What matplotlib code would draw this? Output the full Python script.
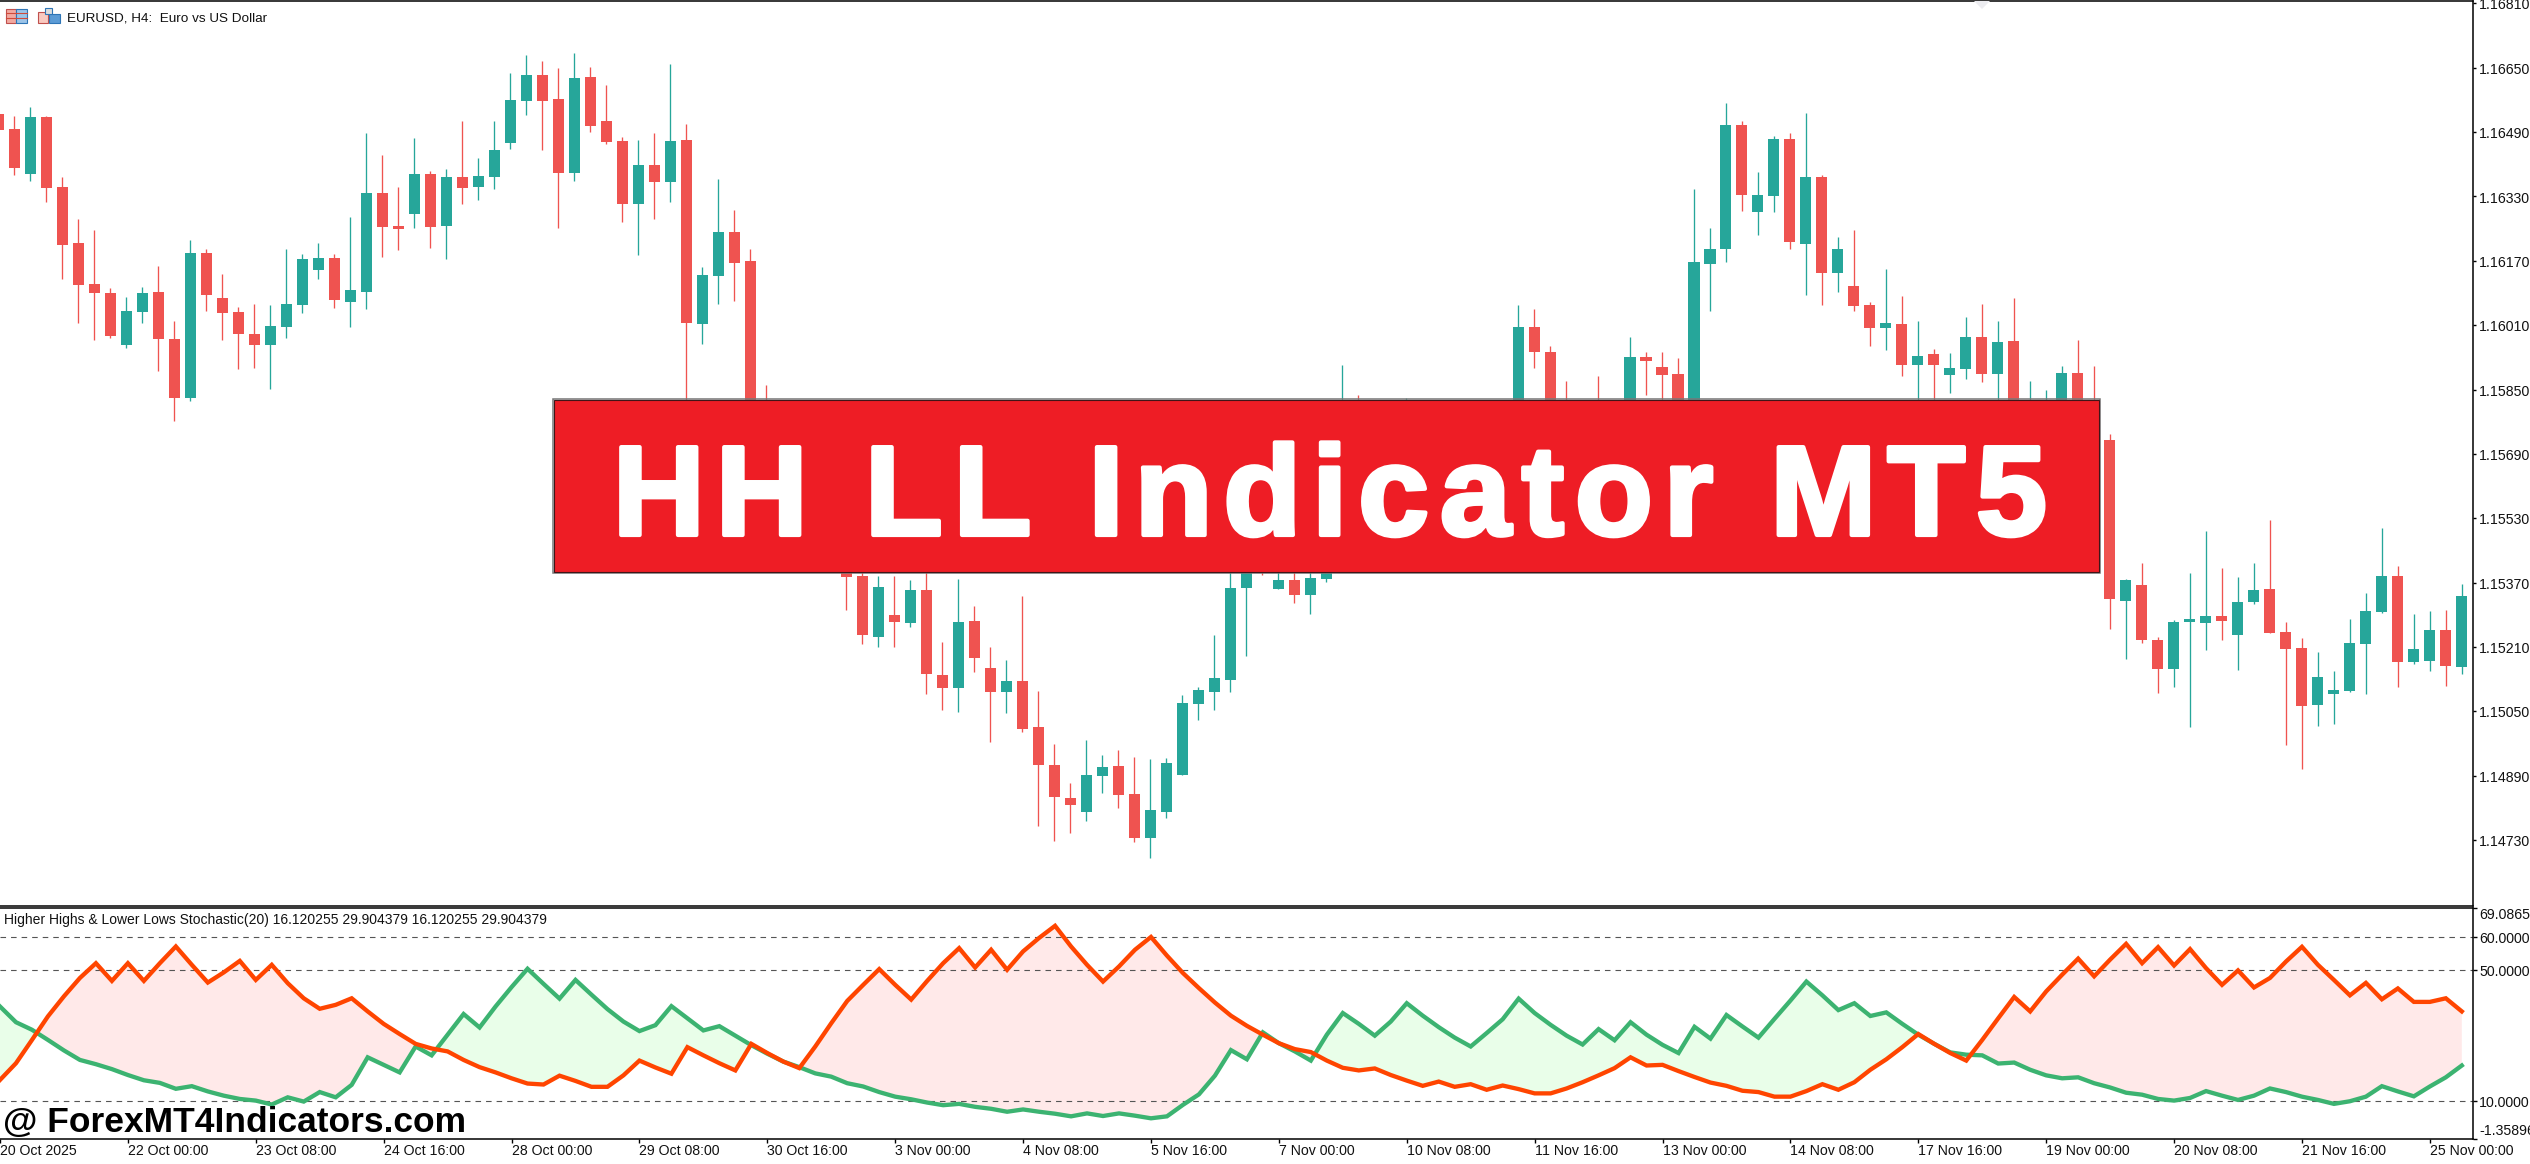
import numpy as np
import matplotlib
matplotlib.use("Agg")
import matplotlib.pyplot as plt
import matplotlib.patheffects as pe
from matplotlib.patches import Rectangle, Polygon

# ---------------- DATA ----------------
# EURUSD H4 candles, prices in 1e-5 units
opens = [116535, 116498, 116386, 116528, 116354, 116215, 116113, 116091, 115961, 116043,
         116093, 115976, 115830, 116190, 116078, 116043, 115989, 115961, 116006, 116061,
         116148, 116177, 116068, 116093, 116339, 116257, 116287, 116386, 116257, 116379,
         116354, 116379, 116463, 116567, 116632, 116572, 116388, 116627, 116518, 116468,
         116312, 116408, 116366, 116470, 116014, 116133, 116242, 116170, 115800, 115720,
         115650, 115600, 115560, 115520, 115386, 115235, 115289, 115269, 115351, 115140,
         115108, 115274, 115158, 115098, 115125, 115011, 114916, 114834, 114800, 114889,
         114914, 114844, 114735, 114800, 114891, 115068, 115098, 115128, 115356, 115440,
         115354, 115376, 115339, 115379, 115480, 115640, 115560, 115700, 115640, 115760,
         115790, 115720, 115750, 115760, 115700, 115800, 116005, 115943, 115790, 115720,
         115790, 115740, 115780, 115931, 115906, 115888, 115790, 116162, 116199, 116507,
         116291, 116331, 116472, 116211, 116378, 116139, 116107, 116060, 116003, 116013,
         115911, 115938, 115886, 115901, 115980, 115888, 115970, 115760, 115770, 115790,
         115891, 115800, 115725, 115324, 115364, 115227, 115155, 115272, 115270, 115287,
         115240, 115322, 115354, 115247, 115207, 115066, 115093, 115101, 115217, 115297,
         115386, 115173, 115175, 115252, 115160]
highs = [116535, 116530, 116552, 116530, 116379, 116274, 116247, 116103, 116081, 116105,
         116158, 116021, 116222, 116200, 116138, 116056, 116063, 116061, 116200, 116187,
         116215, 116187, 116279, 116488, 116433, 116354, 116475, 116393, 116398, 116518,
         116426, 116518, 116637, 116681, 116667, 116649, 116686, 116652, 116607, 116478,
         116470, 116488, 116659, 116510, 116155, 116374, 116297, 116200, 115862, 115760,
         115690, 115640, 115600, 115600, 115420, 115386, 115386, 115376, 115440, 115222,
         115379, 115312, 115210, 115177, 115336, 115100, 114969, 114872, 114979, 114941,
         114954, 114936, 114931, 114934, 115090, 115110, 115240, 115420, 115620, 115520,
         115430, 115420, 115420, 115520, 115911, 115836, 115800, 115780, 115829, 115820,
         115815, 115810, 115820, 115820, 115822, 116060, 116050, 115958, 115871, 115815,
         115883, 115820, 115980, 115943, 115943, 115928, 116348, 116251, 116562, 116517,
         116390, 116480, 116487, 116537, 116383, 116229, 116246, 116067, 116149, 116082,
         116020, 115950, 115940, 116030, 116062, 116020, 116077, 115871, 115848, 115908,
         115973, 115908, 115739, 115379, 115419, 115235, 115277, 115394, 115498, 115406,
         115384, 115419, 115526, 115272, 115232, 115198, 115150, 115280, 115344, 115506,
         115411, 115292, 115299, 115302, 115367]
lows = [116495, 116384, 116369, 116316, 116125, 116016, 115974, 115979, 115954, 116016,
        115897, 115772, 115822, 116046, 115974, 115902, 115904, 115852, 115979, 116041,
        116125, 116053, 116006, 116051, 116180, 116197, 116252, 116202, 116175, 116312,
        116321, 116349, 116448, 116532, 116446, 116252, 116369, 116490, 116460, 116267,
        116185, 116274, 116316, 115780, 115964, 116063, 116071, 115750, 115680, 115620,
        115570, 115520, 115480, 115302, 115217, 115210, 115210, 115259, 115093, 115053,
        115048, 115148, 114974, 115046, 114998, 114765, 114727, 114747, 114777, 114847,
        114809, 114725, 114685, 114785, 114891, 115028, 115053, 115098, 115187, 115389,
        115354, 115319, 115292, 115371, 115440, 115500, 115520, 115600, 115600, 115700,
        115680, 115680, 115720, 115720, 115680, 115770, 115903, 115760, 115700, 115700,
        115700, 115700, 115760, 115836, 115780, 115760, 115770, 116045, 116167, 116293,
        116234, 116291, 116199, 116085, 116060, 116092, 116045, 115958, 115948, 115883,
        115810, 115800, 115841, 115876, 115868, 115780, 115740, 115740, 115750, 115770,
        115770, 115750, 115255, 115180, 115220, 115096, 115110, 115011, 115202, 115227,
        115153, 115317, 115245, 114966, 114907, 115014, 115019, 115098, 115093, 115294,
        115110, 115168, 115150, 115113, 115143]
closes = [116495, 116401, 116528, 116351, 116210, 116110, 116091, 115984, 116046, 116091,
          115976, 115830, 116190, 116086, 116041, 115989, 115961, 116009, 116063, 116175,
          116177, 116073, 116098, 116339, 116254, 116249, 116386, 116254, 116379, 116351,
          116381, 116446, 116570, 116632, 116567, 116388, 116624, 116505, 116465, 116312,
          116408, 116366, 116468, 116016, 116135, 116242, 116165, 115780, 115720, 115650,
          115600, 115560, 115520, 115384, 115240, 115359, 115272, 115351, 115143, 115108,
          115272, 115182, 115098, 115125, 115006, 114916, 114837, 114817, 114891, 114911,
          114842, 114735, 114804, 114921, 115071, 115103, 115133, 115356, 115560, 115420,
          115376, 115339, 115381, 115460, 115640, 115560, 115700, 115640, 115760, 115800,
          115720, 115780, 115800, 115810, 115820, 116005, 115943, 115780, 115740, 115790,
          115740, 115800, 115931, 115921, 115886, 115780, 116167, 116199, 116507, 116333,
          116333, 116472, 116216, 116378, 116139, 116199, 116057, 116003, 116015, 115911,
          115933, 115911, 115903, 115980, 115888, 115968, 115760, 115800, 115800, 115891,
          115790, 115770, 115329, 115377, 115227, 115155, 115272, 115280, 115287, 115275,
          115322, 115352, 115245, 115205, 115063, 115135, 115103, 115220, 115299, 115386,
          115173, 115205, 115252, 115163, 115337]

# indicator lines
stoch_low = [38.9, 34.1, 31.8, 28.7, 25.5, 22.6, 21.3, 19.8, 18.0, 16.4, 15.6, 13.8, 14.6, 13.0, 11.7,
             10.7, 10.2, 9.0, 11.2, 9.9, 12.8, 11.2, 15.0, 23.4, 21.1, 18.8, 26.7, 24.0, 30.3, 36.6,
             32.5, 38.9, 44.8, 50.4, 45.8, 41.3, 47.0, 42.5, 38.1, 34.3, 31.4, 33.2, 39.0, 35.3, 31.6,
             32.9, 30.0, 27.1, 24.5, 22.1, 20.4, 18.5, 17.5, 15.5, 14.5, 12.8, 11.4, 10.6, 9.6, 8.8,
             9.2, 8.3, 7.7, 6.8, 7.5, 6.8, 6.2, 5.4, 6.3, 5.5, 6.3, 5.6, 4.8, 5.4, 8.9,
             12.1, 17.8, 25.6, 22.8, 31.0, 27.7, 25.2, 22.4, 30.3, 36.9, 33.6, 30.0, 34.3, 39.9, 36.1,
             32.6, 29.4, 26.7, 30.8, 35.0, 41.3, 36.9, 33.3, 30.0, 27.3, 32.0, 28.6, 34.1, 30.3, 27.2,
             24.7, 32.7, 29.1, 36.3, 32.8, 29.4, 35.1, 40.7, 46.5, 42.3, 37.8, 39.9, 36.0, 37.1, 33.6,
             30.3, 27.5, 24.9, 24.2, 24.0, 21.5, 21.8, 19.6, 17.9, 17.0, 17.3, 15.5, 14.2, 12.6, 12.0,
             10.7, 10.2, 11.0, 13.1, 11.7, 10.4, 11.7, 13.9, 12.8, 11.4, 10.4, 9.2, 10.0, 11.4, 14.6,
             13.0, 11.5, 14.5, 17.3, 20.9]
stoch_high = [16.5, 21.6, 28.7, 35.9, 42.0, 47.6, 52.1, 46.7, 52.1, 46.7, 52.1, 57.2, 51.6, 46.2, 49.3,
              52.8, 47.0, 51.6, 46.0, 41.4, 38.2, 39.4, 41.4, 37.4, 33.6, 30.5, 27.5, 26.1, 25.2, 22.6,
              20.4, 18.8, 17.0, 15.4, 15.1, 17.8, 16.2, 14.4, 14.4, 17.9, 22.4, 20.3, 18.4, 26.5, 24.0,
              21.6, 19.4, 27.5, 24.7, 22.1, 20.1, 26.7, 33.8, 40.6, 45.5, 50.3, 45.5, 41.0, 46.7, 52.1,
              56.7, 50.8, 56.2, 50.1, 55.7, 59.8, 63.5, 57.2, 51.6, 46.5, 51.1, 56.2, 60.1, 54.4, 49.1,
              44.5, 40.1, 36.1, 33.0, 30.3, 27.7, 25.9, 25.0, 22.4, 20.2, 19.4, 20.0, 18.0, 16.3, 14.7,
              16.0, 14.4, 15.2, 13.5, 14.8, 13.7, 12.4, 12.4, 13.9, 15.8, 17.9, 20.1, 23.4, 20.9, 21.1,
              19.2, 17.4, 15.7, 14.7, 13.2, 12.8, 11.4, 11.4, 13.1, 15.2, 13.5, 15.8, 19.6, 22.8, 26.5,
              30.5, 27.5, 24.7, 22.4, 28.7, 35.3, 41.8, 37.4, 43.5, 48.6, 53.5, 48.1, 53.2, 58.0, 52.1,
              57.0, 51.4, 56.4, 50.6, 45.5, 49.9, 44.7, 47.6, 52.6, 57.1, 51.6, 47.0, 42.3, 46.1, 41.1,
              44.4, 40.3, 40.3, 41.4, 37.4]

price_ticks = [1.16810, 1.16650, 1.16490, 1.16330, 1.16170, 1.16010, 1.15850, 1.15690,
               1.15530, 1.15370, 1.15210, 1.15050, 1.14890, 1.14730]
ind_levels = [60, 50, 10]
ind_ticks = [69.0865, 60, 50, 10, -1.35896]
ind_tick_labels = ["69.0865", "60.0000", "50.0000", "10.0000", "-1.35896"]
time_labels = ["20 Oct 2025", "22 Oct 00:00", "23 Oct 08:00", "24 Oct 16:00", "28 Oct 00:00",
               "29 Oct 08:00", "30 Oct 16:00", "3 Nov 00:00", "4 Nov 08:00", "5 Nov 16:00",
               "7 Nov 00:00", "10 Nov 08:00", "11 Nov 16:00", "13 Nov 00:00", "14 Nov 08:00",
               "17 Nov 16:00", "19 Nov 00:00", "20 Nov 08:00", "21 Nov 16:00", "25 Nov 00:00"]

# ---------------- STYLE ----------------
W, H = 2530, 1164
GREEN = "#26A69A"
RED = "#EF5350"
FONT = "Liberation Sans"
TS = 10.2

plt.rcParams["font.family"] = [FONT, "DejaVu Sans"]
fig = plt.figure(figsize=(W / 100, H / 100), dpi=100, facecolor="white")


def pane(left, top, right, bottom):
    # pixel box to figure fractions
    return fig.add_axes([left / W, 1 - bottom / H, (right - left) / W, (bottom - top) / H])


ax = pane(0, 1, 2473, 905.5)
ind = pane(0, 907.5, 2473, 1138.5)

xs = np.arange(len(opens))
o = np.array(opens) / 1e5
h = np.array(highs) / 1e5
l = np.array(lows) / 1e5
c = np.array(closes) / 1e5
cols = [GREEN if b >= a else RED for a, b in zip(o, c)]

# ---------------- CANDLES ----------------
ax.vlines(xs, l, h, colors=cols, linewidth=0.95, zorder=2)
ax.bar(xs, np.abs(c - o), bottom=np.minimum(o, c), width=0.69, color=cols, linewidth=0, zorder=3)
ax.set_xlim(0.1, 154.7)
ax.set_ylim(1.14567, 1.16816)
ax.set_yticks(price_ticks)
ax.set_yticklabels([])
ax.set_xticks([])
ax.yaxis.tick_right()
ax.tick_params(axis="y", length=2.5, width=1, color="black")
for s in ["left", "bottom"]:
    ax.spines[s].set_visible(False)
for s in ["top", "right"]:
    ax.spines[s].set_linewidth(1.1)
ax.plot([0, 1], [0, 0], transform=ax.transAxes, color="black", lw=1.1, clip_on=False)
for p in price_ticks:
    ax.annotate(f"{p:.5f}", (1, p), xycoords=("axes fraction", "data"), xytext=(4.5, -1.5),
                textcoords="offset points", va="center", ha="left", fontsize=TS, color="#111111",
                annotation_clip=False)

# ---------------- INDICATOR ----------------
low = np.array(stoch_low)
high = np.array(stoch_high)
ind.fill_between(xs, low, high, where=high >= low, interpolate=True, color="#FFE9E9", linewidth=0, zorder=1)
ind.fill_between(xs, low, high, where=high <= low, interpolate=True, color="#E9FEE9", linewidth=0, zorder=1)
for lev in ind_levels:
    ind.axhline(lev, color="#555555", lw=0.8, dashes=(5, 4.5), zorder=2)
ind.plot(xs, low, color="#3CB371", lw=3.1, solid_joinstyle="miter", zorder=3)
ind.plot(xs, high, color="#FF4500", lw=3.1, solid_joinstyle="miter", zorder=4)
ind.set_xlim(0.1, 154.7)
ind.set_ylim(-1.35896, 69.0865)
ind.set_yticks(ind_ticks)
ind.set_yticklabels([])
ind.yaxis.tick_right()
ind.set_xticks(np.arange(len(time_labels)) * 8)
ind.set_xticklabels([])
ind.tick_params(axis="both", length=2.9, width=1, color="black")
ind.spines["left"].set_visible(False)
for s in ["top", "right", "bottom"]:
    ind.spines[s].set_linewidth(1.1)
for val, lab in zip(ind_ticks, ind_tick_labels):
    off = -5.5 if val > 65 else (5.5 if val < 0 else -1.5)
    ind.annotate(lab, (1, val), xycoords=("axes fraction", "data"), xytext=(4.5, off),
                 textcoords="offset points", va="center", ha="left", fontsize=TS, color="#111111",
                 annotation_clip=False)
for i, lab in enumerate(time_labels):
    ind.annotate(lab, (i * 8, 0), xycoords=("data", "axes fraction"), xytext=(0, -9),
                 textcoords="offset points", va="center", ha="left", fontsize=TS, color="#111111",
                 annotation_clip=False)

# ---------------- OVERLAY (pixel coordinates) ----------------
top = fig.add_axes([0, 0, 1, 1], zorder=10)
top.set_xlim(0, W)
top.set_ylim(H, 0)
top.axis("off")

top.text(67, 18.5, "EURUSD, H4:  Euro vs US Dollar", fontsize=9.7, va="center", color="#111111")
top.text(4, 920, "Higher Highs & Lower Lows Stochastic(20) 16.120255 29.904379 16.120255 29.904379",
         fontsize=10, va="center", color="#111111")

# chart icons
for x0, y0, w, hh, col in [(6, 9, 10, 14, "#F2A9A0"), (16, 9, 11, 14, "#9CC4E8"),
                           (38, 12, 10, 11, "#F9C9C0"), (49, 14, 11, 9, "#5B9BD5"),
                           (45, 8, 7, 6, "#DDDDDD")]:
    top.add_patch(Rectangle((x0, y0), w, hh, facecolor=col, edgecolor="#C0504D" if x0 < 16 or x0 == 38 else "#2E75B6", lw=0.8))
for yy in (13, 18):
    top.plot([6, 27], [yy, yy], color="#D04A3A", lw=0.8)

# small marker on the top edge
top.add_patch(Polygon([(1974, 1), (1990, 1), (1982, 9)], closed=True, facecolor="#ECECF0", edgecolor="none"))

# banner
top.add_patch(Rectangle((553, 398.5), 1546.5, 174.5, facecolor="none", edgecolor="#777777", lw=1.1))
top.add_patch(Rectangle((554, 399.5), 1544.5, 172.5, facecolor="#EE1D25", edgecolor="#401518", lw=0.8))
top.text(1329, 535, "\u200a".join("HH LL Indicator MT5"), fontsize=92, fontweight="bold", color="white",
         ha="center", va="baseline",
         path_effects=[pe.withStroke(linewidth=3, foreground="white")])

top.text(3, 1132, "@ ForexMT4Indicators.com", fontsize=25.5, fontweight="bold", color="black",
         ha="left", va="baseline")

fig.savefig("out.png", dpi=100, facecolor="white")
